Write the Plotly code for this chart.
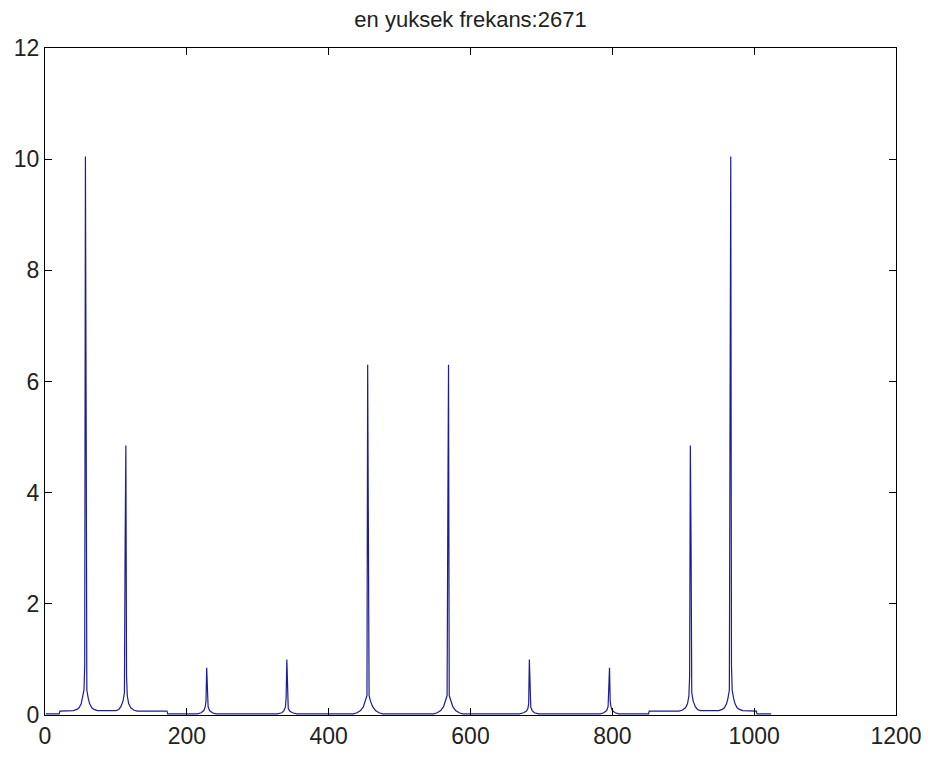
import plotly.graph_objects as go

# FFT magnitude samples (bin index, magnitude)
bins = [
    1, 20, 21, 40, 45, 48, 51, 53, 55, 56, 57, 58, 59, 61, 63, 66, 69, 74,
    100, 104, 107, 110, 112, 113, 114, 115, 116, 118, 121, 125, 130, 172, 173,
    215, 220, 224, 226, 227, 228, 229, 230, 232, 236, 241,
    328, 334, 337, 339, 340, 341, 342, 343, 345, 349, 355,
    435, 440, 445, 449, 452, 454, 455, 456, 457, 459, 462, 466, 471, 476,
    548, 553, 558, 562, 565, 567, 568, 569, 570, 572, 575, 579, 584, 589,
    669, 675, 679, 681, 682, 683, 684, 685, 687, 690, 696,
    783, 788, 792, 794, 795, 796, 797, 798, 800, 804, 809,
    851, 852, 894, 899, 903, 906, 908, 909, 910, 911, 912, 914, 917, 920, 924,
    950, 955, 958, 961, 963, 965, 966, 967, 968, 969, 971, 973, 976, 979, 984,
    1003, 1004, 1024,
]
magnitude = [
    0.02, 0.02, 0.07, 0.08, 0.10, 0.13, 0.20, 0.30, 0.45, 0.90, 10.05, 5.50, 0.45, 0.30, 0.20, 0.13, 0.10, 0.08,
    0.08, 0.10, 0.15, 0.25, 0.40, 3.10, 4.85, 0.70, 0.35, 0.20, 0.13, 0.09, 0.07, 0.07, 0.02,
    0.02, 0.04, 0.08, 0.15, 0.25, 0.85, 0.50, 0.15, 0.08, 0.04, 0.02,
    0.02, 0.04, 0.08, 0.14, 0.30, 1.00, 0.20, 0.12, 0.07, 0.04, 0.02,
    0.02, 0.04, 0.08, 0.15, 0.25, 0.35, 6.30, 3.55, 0.35, 0.25, 0.15, 0.08, 0.04, 0.02,
    0.02, 0.04, 0.08, 0.15, 0.25, 0.35, 3.55, 6.30, 0.35, 0.25, 0.15, 0.08, 0.04, 0.02,
    0.02, 0.04, 0.07, 0.12, 0.20, 1.00, 0.30, 0.14, 0.08, 0.04, 0.02,
    0.02, 0.04, 0.08, 0.15, 0.50, 0.85, 0.25, 0.15, 0.08, 0.04, 0.02,
    0.02, 0.07, 0.07, 0.09, 0.13, 0.20, 0.35, 0.70, 4.85, 3.10, 0.40, 0.25, 0.15, 0.10, 0.08,
    0.08, 0.10, 0.13, 0.20, 0.30, 0.45, 5.50, 10.05, 0.90, 0.45, 0.30, 0.20, 0.13, 0.10, 0.08,
    0.07, 0.02, 0.02,
]

title_text = "en yuksek frekans:2671"
x_ticks = [0, 200, 400, 600, 800, 1000, 1200]
y_ticks = [0, 2, 4, 6, 8, 10, 12]

fig = go.Figure()
fig.add_trace(go.Scatter(
    x=bins, y=magnitude, mode="lines",
    line=dict(color="#1c1c96", width=1.2),
    hoverinfo="skip", showlegend=False,
))

axis_common = dict(
    showline=True, linecolor="black", linewidth=1.3, mirror="ticks",
    ticks="inside", ticklen=7, tickcolor="black", tickwidth=1.3,
    showgrid=False, zeroline=False, automargin=False,
    tickfont=dict(family="Liberation Sans, Arial", size=23, color="#222222"),
)

fig.update_layout(
    width=930, height=760,
    paper_bgcolor="white", plot_bgcolor="white",
    margin=dict(l=37, r=42, t=40, b=53),
    title=dict(
        text=title_text, x=0.5, xanchor="center", xref="paper",
        y=0.995, yanchor="top", yref="container", automargin=False,
        pad=dict(t=0, b=0, l=0, r=0),
        font=dict(family="Liberation Sans, Arial", size=22, color="#222222"),
    ),
    xaxis=dict(range=[0, 1200], tickvals=x_ticks, ticktext=[str(v) for v in x_ticks], **axis_common),
    yaxis=dict(range=[0, 12], tickvals=y_ticks, ticktext=[str(v) for v in y_ticks], **axis_common),
)

fig.write_html("out.html")
